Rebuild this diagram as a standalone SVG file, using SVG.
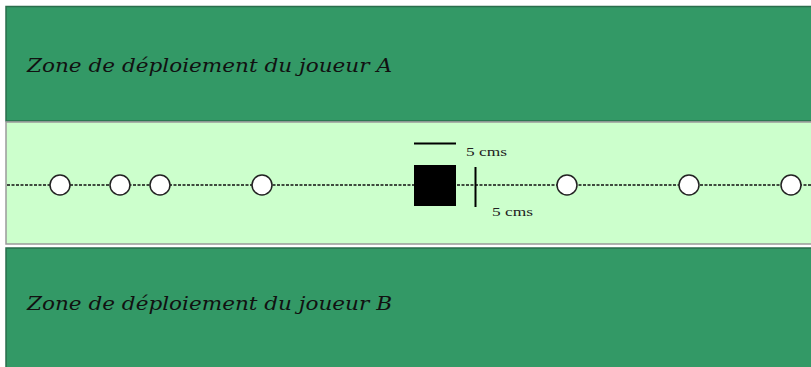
<svg xmlns="http://www.w3.org/2000/svg" width="811" height="367" viewBox="0 0 811 367">
<style>
.zone{fill:#339966;stroke:#2a6e4c;stroke-width:1.5}
.ztxt{font-family:"DejaVu Serif","Liberation Serif",serif;font-style:italic;font-size:19px;fill:#111}
.lbl{font-family:"Liberation Serif",serif;font-size:13.5px;fill:#222}
.obj{fill:#fff;stroke:#222;stroke-width:1.5}
</style>
<rect x="0" y="0" width="811" height="367" fill="#fff"/>
<g id="zoneA"><rect class="zone" x="6" y="6.5" width="810" height="114.5"/><text class="ztxt" x="27" y="72" textLength="365" lengthAdjust="spacingAndGlyphs">Zone de déploiement du joueur A</text></g>
<g id="centre"><rect x="6" y="122" width="810" height="122" fill="#ccffcc" stroke="#9a9a9a" stroke-width="1.5"/></g>
<g id="zoneB"><rect class="zone" x="6" y="248" width="810" height="125"/><text class="ztxt" x="27" y="310" textLength="365" lengthAdjust="spacingAndGlyphs">Zone de déploiement du joueur B</text></g>
<g id="connectors"><line x1="7" y1="185" x2="811" y2="185" stroke="#111" stroke-width="1.5" stroke-dasharray="3,1.5"/></g>
<g id="o1"><circle class="obj" cx="60" cy="185" r="10"/></g>
<g id="o2"><circle class="obj" cx="120" cy="185" r="10"/></g>
<g id="o3"><circle class="obj" cx="160" cy="185" r="10"/></g>
<g id="o4"><circle class="obj" cx="262" cy="185" r="10"/></g>
<g id="o5"><circle class="obj" cx="567" cy="185" r="10"/></g>
<g id="o6"><circle class="obj" cx="689" cy="185" r="10"/></g>
<g id="o7"><circle class="obj" cx="791" cy="185" r="10"/></g>
<g id="square"><rect x="414" y="165" width="42" height="41" fill="#000"/></g>
<g id="scaleH"><line x1="414" y1="143.5" x2="456" y2="143.5" stroke="#000" stroke-width="2"/><text class="lbl" x="466" y="156" textLength="41" lengthAdjust="spacingAndGlyphs">5 cms</text></g>
<g id="scaleV"><line x1="475.5" y1="167" x2="475.5" y2="207" stroke="#000" stroke-width="2"/><text class="lbl" x="492" y="216" textLength="41" lengthAdjust="spacingAndGlyphs">5 cms</text></g>
</svg>
